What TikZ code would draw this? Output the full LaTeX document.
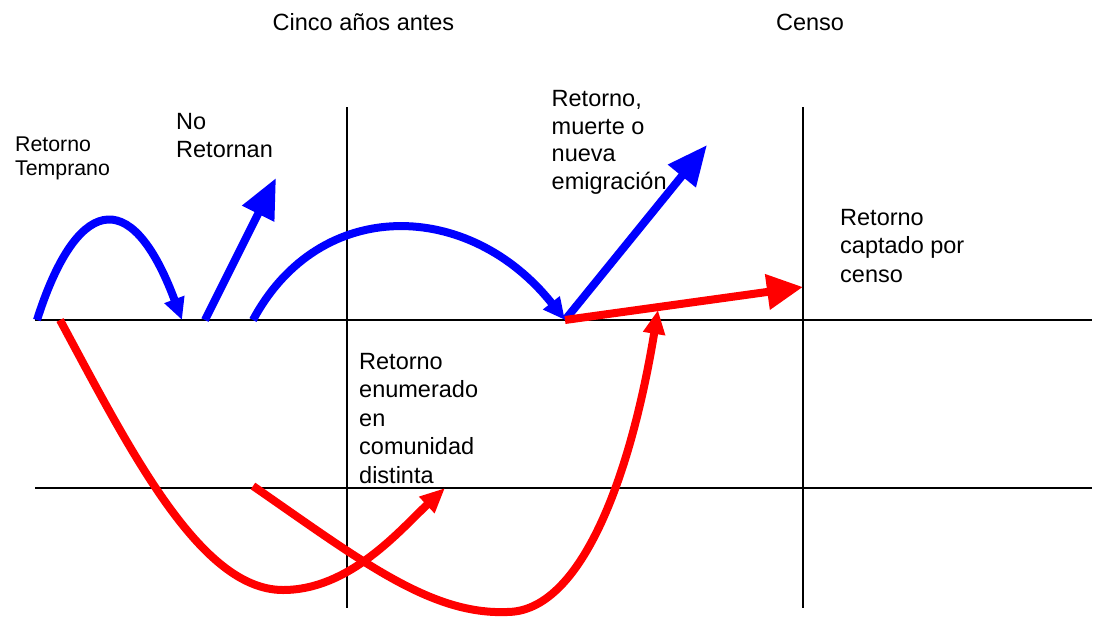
\documentclass[tikz,border=0pt]{standalone}
\usepackage{fontspec}
\setmainfont{Liberation Sans}
\usetikzlibrary{arrows.meta}
\definecolor{myblue}{RGB}{0,0,255}
\definecolor{myred}{RGB}{255,0,0}
\begin{document}
\begin{tikzpicture}[x=1pt,y=-1pt,
  axis/.style={black,line width=1.5pt},
  bluearr/.style={myblue,line width=8pt},
  redarr/.style={myred,line width=8pt},
  lbl/.style={inner sep=0pt,anchor=north west,align=left,font=\fontsize{23.5}{28}\selectfont},
  hdr/.style={inner sep=0pt,anchor=base,font=\fontsize{23.5}{28}\selectfont}]
\useasboundingbox (0,0) rectangle (1103,616);
% axes
\coordinate (h1a) at (35,320); \coordinate (h1b) at (1092,320);
\coordinate (h2a) at (35,488); \coordinate (h2b) at (1092,488);
\coordinate (v1a) at (347,107); \coordinate (v1b) at (347,608);
\coordinate (v2a) at (803,107); \coordinate (v2b) at (803,608);
\draw[axis] (h1a) -- (h1b);
\draw[axis] (h2a) -- (h2b);
\draw[axis] (v1a) -- (v1b);
\draw[axis] (v2a) -- (v2b);
% coordinates
\coordinate (a1s) at (37,320); \coordinate (a1e) at (182,320);
\coordinate (a2s) at (205,320); \coordinate (a2e) at (276,178);
\coordinate (a3s) at (253,320); \coordinate (a3e) at (565,320);
\coordinate (a4e) at (707,145);
\coordinate (a5e) at (803,287);
\coordinate (r6s) at (60,320); \coordinate (r6m) at (283,590); \coordinate (r6e) at (445,488);
\coordinate (r7s) at (253,486); \coordinate (r7m) at (507,612); \coordinate (r7e) at (658,310);
% blue
\draw[bluearr,-{Triangle[length=22pt,width=20pt]}] (a1s) .. controls (75,200) and (130,180) .. (a1e);
\draw[bluearr,-{Triangle[length=40pt,width=34pt]}] (a2s) -- (a2e);
\draw[bluearr,-{Triangle[length=22pt,width=20pt]}] (a3s) .. controls (320,195) and (470,200) .. (a3e);
\draw[bluearr,-{Triangle[length=40pt,width=34pt]}] (a3e) -- (a4e);
% red
\draw[redarr,-{Triangle[length=36pt,width=34pt]}] (a3e) -- (a5e);
\draw[redarr] (r6s) .. controls (130,450) and (200,590) .. (r6m);
\draw[redarr,-{Triangle[length=25pt,width=21pt]}] (r6m) .. controls (350,590) and (400,530) .. (r6e);
\draw[redarr] (r7s) .. controls (360,560) and (430,615) .. (r7m);
\draw[redarr,-{Triangle[length=24pt,width=21pt]}] (r7m) .. controls (580,612) and (630,480) .. (r7e);
% text
\node[hdr] (t1) at (363.5,30) {Cinco años antes};
\node[hdr] (t2) at (810,30) {Censo};
\node[lbl,font=\fontsize{21.3}{24.5}\selectfont] (t3) at (15,136.5) {Retorno\\Temprano};
\node[lbl] (t4) at (176,113) {No\\Retornan};
\node[lbl,font=\fontsize{23.5}{27.7}\selectfont] (t5) at (551.5,90) {Retorno,\\muerte o\\nueva\\emigración};
\node[lbl,font=\fontsize{23.5}{28.5}\selectfont] (t6) at (840,209) {Retorno\\captado por\\censo};
\node[lbl,font=\fontsize{23.5}{28.5}\selectfont] (t7) at (359,353) {Retorno\\enumerado\\en\\comunidad\\distinta};
\end{tikzpicture}
\end{document}
